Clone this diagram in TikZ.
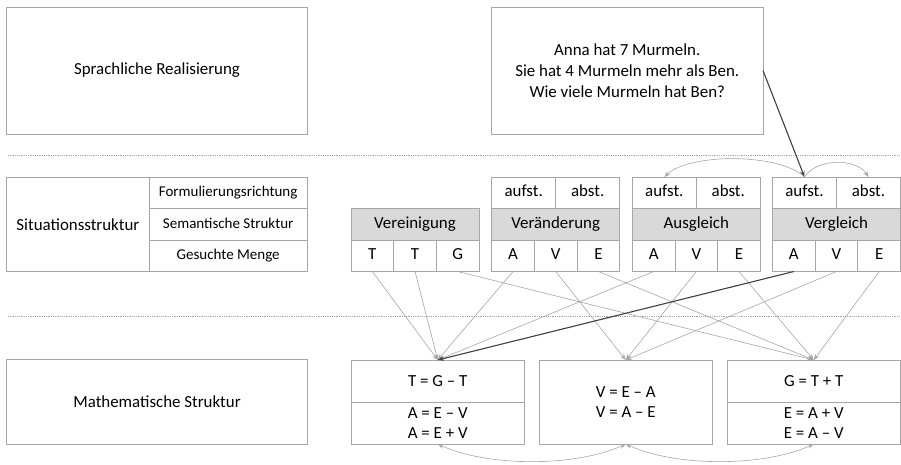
\documentclass[tikz,border=0pt]{standalone}
\usepackage{fontspec}
\setmainfont{Carlito}
\usetikzlibrary{arrows.meta}
\definecolor{bgray}{HTML}{A6A6A6}
\definecolor{hgray}{HTML}{D9D9D9}
\definecolor{lgray}{HTML}{A6A6A6}
\definecolor{dgray}{HTML}{3F3F3F}
\newcommand\fsA{\fontsize{16.9}{21}\selectfont}
\newcommand\fsB{\fontsize{15}{18}\selectfont}
\newcommand\fsC{\fontsize{16.9}{19.5}\selectfont}
\begin{document}
\begin{tikzpicture}[x=1pt,y=-1pt,
  box/.style={draw=bgray, line width=0.8pt, inner sep=0pt, outer sep=0pt, font=\fsA, align=center},
  cell/.style={box, anchor=north west, minimum width=42.667pt, minimum height=31.5pt, text height=11.5pt, text depth=3.5pt},
  half/.style={box, anchor=north west, minimum width=64pt, minimum height=31.5pt, text height=11.5pt, text depth=3.5pt},
  hdr/.style={box, anchor=north west, fill=hgray, minimum width=128pt, minimum height=31.5pt, text height=11.5pt, text depth=3.5pt},
  row/.style={box, anchor=north west, font=\fsB, minimum width=157.7pt, minimum height=31.5pt, text height=10.5pt, text depth=3pt},
  sep/.style={draw=lgray, line width=0.6pt, dash pattern=on 0.7pt off 1.1pt},
  conn/.style={draw=lgray, line width=0.6pt, -{Stealth[length=6pt,width=4.5pt]}},
  conn2/.style={draw=lgray, line width=0.6pt, {Stealth[length=6pt,width=4.5pt]}-{Stealth[length=6pt,width=4.5pt]}},
  dark/.style={draw=dgray, line width=1.1pt, -{Stealth[length=6pt,width=4.5pt]}}]
\useasboundingbox (0,0) rectangle (901,465);

% top row
\node[box, minimum width=301pt, minimum height=127pt] (sprach) at (157,70.5) {Sprachliche Realisierung};
\node[box, minimum width=271.5pt, minimum height=127pt] (aufgabe) at (627.25,70.5) {Anna hat 7 Murmeln.\\Sie hat 4 Murmeln mehr als Ben.\\Wie viele Murmeln hat Ben?};

% separators
\draw[sep] (8,155.5) -- (901,155.5);
\draw[sep] (8,316) -- (901,316);

% situation table
\node[box, anchor=north west, minimum width=142.8pt, minimum height=94.5pt] (sit) at (6.5,177) {Situationsstruktur};
\node[row] (form) at (149.3,177) {Formulierungsrichtung};
\node[row] (sem) at (149.3,208.5) {Semantische Struktur};
\node[row] (ges) at (149.3,240) {Gesuchte Menge};

% groups
\foreach \g/\x/\t in {ve/351/Vereinigung, vae/491.7/Veränderung, au/632.3/Ausgleich, vg/772.5/Vergleich}{
  \node[hdr] (\g h) at (\x,208.5) {\t};
}
\node[cell] (ve1) at (351,240) {T};
\node[cell] (ve2) at (393.667,240) {T};
\node[cell] (ve3) at (436.333,240) {G};
\foreach \g/\x in {vae/491.7, au/632.3, vg/772.5}{
  \node[cell] (\g1) at (\x,240) {A};
  \node[cell] (\g2) at (\x+42.667,240) {V};
  \node[cell] (\g3) at (\x+85.333,240) {E};
  \node[half] (\g u) at (\x,177) {aufst.};
  \node[half] (\g b) at (\x+64,177) {abst.};
}

% math structure
\node[box, minimum width=301pt, minimum height=85pt] (math) at (157,401.5) {Mathematische Struktur};
\node[box, anchor=north west, minimum width=173.5pt, minimum height=42.3pt] (m1t) at (351,360) {T = G – T};
\node[box, anchor=north west, minimum width=173.5pt, minimum height=41.7pt, font=\fsC] (m1b) at (351,402.3) {A = E – V\\A = E + V};
\node[box, anchor=north west, minimum width=173.5pt, minimum height=84pt, font=\fsC] (m2) at (539,360) {V = E – A\\V = A – E};
\node[box, anchor=north west, minimum width=173.5pt, minimum height=42.3pt] (m3t) at (727,360) {G = T + T};
\node[box, anchor=north west, minimum width=173.5pt, minimum height=41.7pt, font=\fsC] (m3b) at (727,402.3) {E = A + V\\E = A – V};

% connectors
\foreach \s/\t in {ve1/m1t, ve2/m1t, ve3/m3t, vae1/m1t, vae2/m2, vae3/m3t, au1/m1t, au2/m2, au3/m3t, vg2/m2, vg3/m3t}
  \draw[conn] (\s.south) -- (\t.north);
\draw[dark] (vg1.south) -- (m1t.north);
\draw[dark] (aufgabe.east) -- (vgu.north);

\draw[conn] (vgu.north) .. controls +(-25,-24) and +(25,-24) .. (auu.north);
\draw[conn] (vgu.north) .. controls +(12,-19) and +(-12,-19) .. (vgb.north);
\draw[conn2] (m1b.south) .. controls +(50,23) and +(-50,23) .. (m2.south);
\draw[conn2] (m2.south) .. controls +(50,23) and +(-50,23) .. (m3b.south);
\end{tikzpicture}
\end{document}
